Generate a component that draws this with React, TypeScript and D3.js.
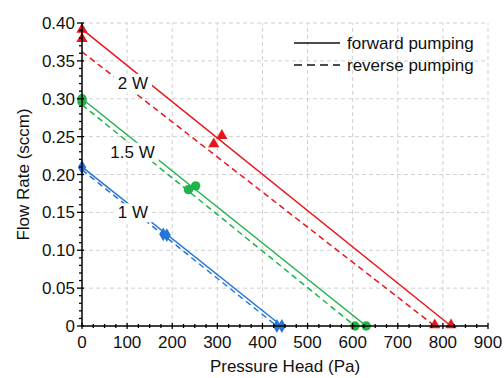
import React, { useEffect, useRef } from "react";
import * as d3 from "d3";

// measured points: [pressure (Pa), flow (sccm)]
const power = ["2 W", "1.5 W", "1 W"];
const colors = ["#e8161b", "#1fb34a", "#2676d6"];
const markers = ["triangle", "circle", "diamond"];

const fwdPoints = [
  [[0, 0.39], [310, 0.25], [818, 0]],
  [[0, 0.3], [252, 0.185], [630, 0]],
  [[0, 0.21], [188, 0.12], [443, 0]],
];
const revPoints = [
  [[0, 0.378], [292, 0.239], [782, 0]],
  [[0, 0.296], [236, 0.18], [605, 0]],
  [[0, 0.209], [180, 0.121], [432, 0]],
];

// fitted lines: [intercept flow, zero-flow pressure]
const fwdFit = [[0.392, 818], [0.3, 630], [0.21, 443]];
const revFit = [[0.362, 782], [0.292, 605], [0.206, 432]];

// label anchors [pressure, flow]
const labelPos = [[113, 0.321], [112, 0.23], [113, 0.15]];

const xTicks = [0, 100, 200, 300, 400, 500, 600, 700, 800, 900];
const yTicks = [0, 0.05, 0.1, 0.15, 0.2, 0.25, 0.3, 0.35, 0.4];

export default function App() {
  const ref = useRef<SVGSVGElement>(null);

  useEffect(() => {
    const width = 504,
      height = 378,
      margin = { top: 23, right: 16, bottom: 52, left: 82 };
    const font = "'Liberation Sans', Arial, sans-serif";
    const fs = "17px";

    const svg = d3.select(ref.current);
    svg.selectAll("*").remove();

    const x = d3.scaleLinear().domain([0, 900]).range([margin.left, width - margin.right]);
    const y = d3.scaleLinear().domain([0, 0.4]).range([height - margin.bottom, margin.top]);

    // grid
    const grid = svg.append("g").attr("stroke", "#d0d0d0").attr("stroke-dasharray", "4,3");
    xTicks.slice(1).forEach((t) => {
      grid.append("line").attr("x1", x(t)).attr("x2", x(t)).attr("y1", y(0)).attr("y2", y(0.4));
    });
    yTicks.slice(1).forEach((t) => {
      grid.append("line").attr("x1", x(0)).attr("x2", x(900)).attr("y1", y(t)).attr("y2", y(t));
    });

    // fitted lines
    fwdFit.forEach((f, i) => {
      svg.append("line")
        .attr("x1", x(0)).attr("y1", y(f[0]))
        .attr("x2", x(f[1])).attr("y2", y(0))
        .attr("stroke", colors[i]).attr("stroke-width", 1.5);
    });
    revFit.forEach((f, i) => {
      svg.append("line")
        .attr("x1", x(0)).attr("y1", y(f[0]))
        .attr("x2", x(f[1])).attr("y2", y(0))
        .attr("stroke", colors[i]).attr("stroke-width", 1.5)
        .attr("stroke-dasharray", "6,4");
    });

    // power labels with white background
    labelPos.forEach((p, i) => {
      const g = svg.append("g");
      const t = g.append("text")
        .attr("x", x(p[0])).attr("y", y(p[1]) + 6)
        .attr("text-anchor", "middle")
        .style("font-family", font).style("font-size", fs)
        .attr("fill", "#111")
        .text(power[i]);
      const bb = (t.node() as SVGTextElement).getBBox();
      g.insert("rect", "text")
        .attr("x", bb.x - 4).attr("y", bb.y)
        .attr("width", bb.width + 8).attr("height", bb.height)
        .attr("fill", "white");
    });

    // markers
    const sym = {
      triangle: d3.symbol().type(d3.symbolTriangle).size(55),
      circle: d3.symbol().type(d3.symbolCircle).size(70),
      diamond: d3.symbol().type(d3.symbolDiamond).size(55),
    };
    [fwdPoints, revPoints].forEach((set) => {
      set.forEach((pts, i) => {
        svg.append("g").selectAll("path").data(pts).enter().append("path")
          .attr("d", sym[markers[i]]())
          .attr("transform", (d) => `translate(${x(d[0])},${y(d[1]) - (markers[i] === "triangle" ? 1 : 0)})`)
          .attr("fill", colors[i]);
      });
    });

    // x axis
    const xa = svg.append("g").attr("stroke", "#000");
    xa.append("line").attr("x1", x(0)).attr("x2", x(900)).attr("y1", y(0)).attr("y2", y(0)).attr("stroke-width", 1.5);
    d3.range(0, 901, 25).forEach((t) => {
      const major = t % 100 === 0;
      xa.append("line").attr("x1", x(t)).attr("x2", x(t))
        .attr("y1", y(0) - (major ? 3 : 2)).attr("y2", y(0) + (major ? 3 : 2))
        .attr("stroke-width", 1.3);
    });
    svg.append("g").selectAll("text").data(xTicks).enter().append("text")
      .attr("x", (d) => x(d)).attr("y", y(0) + 22)
      .attr("text-anchor", "middle")
      .style("font-family", font).style("font-size", fs)
      .attr("fill", "#111")
      .text((d) => String(d));

    // y axis
    const ya = svg.append("g").attr("stroke", "#000");
    ya.append("line").attr("x1", x(0)).attr("x2", x(0)).attr("y1", y(0)).attr("y2", y(0.4)).attr("stroke-width", 1.5);
    d3.range(0, 41).forEach((k) => {
      const t = k / 100;
      const major = k % 5 === 0;
      ya.append("line").attr("x1", x(0) - (major ? 5 : 3)).attr("x2", x(0) + (major ? 2 : 0))
        .attr("y1", y(t)).attr("y2", y(t))
        .attr("stroke-width", 1.3);
    });
    svg.append("g").selectAll("text").data(yTicks).enter().append("text")
      .attr("x", x(0) - 7).attr("y", (d) => y(d) + 6)
      .attr("text-anchor", "end")
      .style("font-family", font).style("font-size", fs)
      .attr("fill", "#111")
      .text((d) => (d === 0 ? "0" : d3.format(".2f")(d)));

    // axis titles
    svg.append("text")
      .attr("x", (x(0) + x(900)) / 2).attr("y", 372)
      .attr("text-anchor", "middle")
      .style("font-family", font).style("font-size", fs)
      .attr("fill", "#111")
      .text("Pressure Head (Pa)");
    svg.append("text")
      .attr("transform", `translate(29,${(y(0) + y(0.4)) / 2}) rotate(-90)`)
      .attr("text-anchor", "middle")
      .style("font-family", font).style("font-size", fs)
      .attr("fill", "#111")
      .text("Flow Rate (sccm)");

    // legend
    const lg = svg.append("g");
    [["forward pumping", null], ["reverse pumping", "8,5"]].forEach((e, i) => {
      const ly = 43 + i * 22;
      lg.append("line").attr("x1", 294).attr("x2", 340).attr("y1", ly).attr("y2", ly)
        .attr("stroke", "#111").attr("stroke-width", 1.5)
        .attr("stroke-dasharray", e[1]);
      lg.append("text").attr("x", 347).attr("y", ly + 6)
        .style("font-family", font).style("font-size", fs)
        .attr("fill", "#111")
        .text(e[0] as string);
    });
  }, []);

  return (
    <svg
      ref={ref}
      width={504}
      height={378}
      style={{ position: "absolute", left: 0, top: 0, background: "white" }}
    />
  );
}
